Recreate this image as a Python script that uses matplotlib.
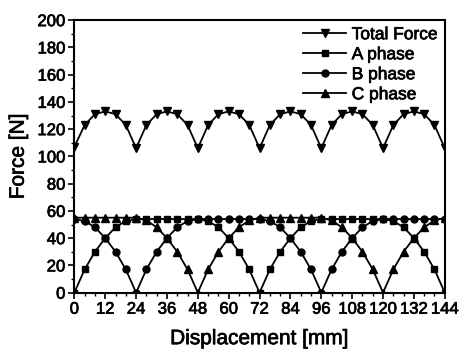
import matplotlib
matplotlib.use("Agg")
import matplotlib.pyplot as plt
import matplotlib.patheffects as pe
from matplotlib.ticker import MultipleLocator

plt.rcParams['font.family'] = ['Liberation Sans', 'DejaVu Sans']

x = [0, 4, 8, 12, 16, 20, 24, 28, 32, 36, 40, 44, 48, 52, 56, 60, 64, 68, 72,
     76, 80, 84, 88, 92, 96, 100, 104, 108, 112, 116, 120, 124, 128, 132, 136, 140, 144]

total = [107, 123, 131, 133, 131, 123, 106, 123, 131, 133, 131, 123, 106,
         123, 131, 133, 131, 123, 106, 123, 131, 133, 131, 123, 106,
         123, 131, 133, 131, 123, 106, 123, 131, 133, 131, 123, 106]

a_phase = [0, 17, 30, 40, 48, 52.5, 54, 54, 54, 54, 54, 54, 54,
           52.5, 48, 40, 30, 17, 0, 17, 30, 40, 48, 52.5, 54,
           54, 54, 54, 54, 54, 54, 52.5, 48, 40, 30, 17, 0]

b_phase = [54, 52.5, 48, 40, 30, 17, 0, 17, 30, 40, 48, 52.5, 54,
           54, 54, 54, 54, 54, 54, 52.5, 48, 40, 30, 17, 0,
           17, 30, 40, 48, 52.5, 54, 54, 54, 54, 54, 54, 54]

c_phase = [55, 55, 55, 55, 55, 55, 55, 53, 48, 40, 30, 17, 0,
           17, 30, 40, 48, 53, 55, 55, 55, 55, 55, 55, 55,
           53, 48, 40, 30, 17, 0, 17, 30, 40, 48, 53, 55]

fig = plt.figure(figsize=(4.59, 3.53), dpi=100)
ax = fig.add_axes([0.162, 0.171, 0.807, 0.772])

kw = dict(color='black', lw=1.3, ms=5.5, mfc='black', mec='black')
ax.plot(x, total, marker='v', label='Total Force', **kw)
ax.plot(x, a_phase, marker='s', label='A phase', **dict(kw, ms=4.5))
ax.plot(x, b_phase, marker='o', label='B phase', **dict(kw, ms=5))
ax.plot(x, c_phase, marker='^', label='C phase', **kw)

ax.set_xlim(0, 144)
ax.set_ylim(0, 200)
ax.xaxis.set_major_locator(MultipleLocator(12))
ax.xaxis.set_minor_locator(MultipleLocator(4))
ax.yaxis.set_major_locator(MultipleLocator(20))
ax.yaxis.set_minor_locator(MultipleLocator(10))
ax.tick_params(which='major', direction='out', length=4, width=1.2, labelsize=12, pad=2.5)
ax.tick_params(which='minor', direction='out', length=2, width=1)
for s in ax.spines.values():
    s.set_linewidth(1.5)

ax.set_xlabel('Displacement [mm]', fontsize=15, labelpad=9)
ax.set_ylabel('Force [N]', fontsize=15, labelpad=7)

leg = ax.legend(loc='upper right', frameon=False, fontsize=12.5, handlelength=2.5,
                handletextpad=0.3, labelspacing=0.28, borderaxespad=0.3, borderpad=0.1)

thick = [pe.withStroke(linewidth=0.5, foreground='black')]
for t in (ax.get_xticklabels() + ax.get_yticklabels() + leg.get_texts()
          + [ax.xaxis.label, ax.yaxis.label]):
    t.set_path_effects(thick)

fig.savefig('out.png', dpi=100)
